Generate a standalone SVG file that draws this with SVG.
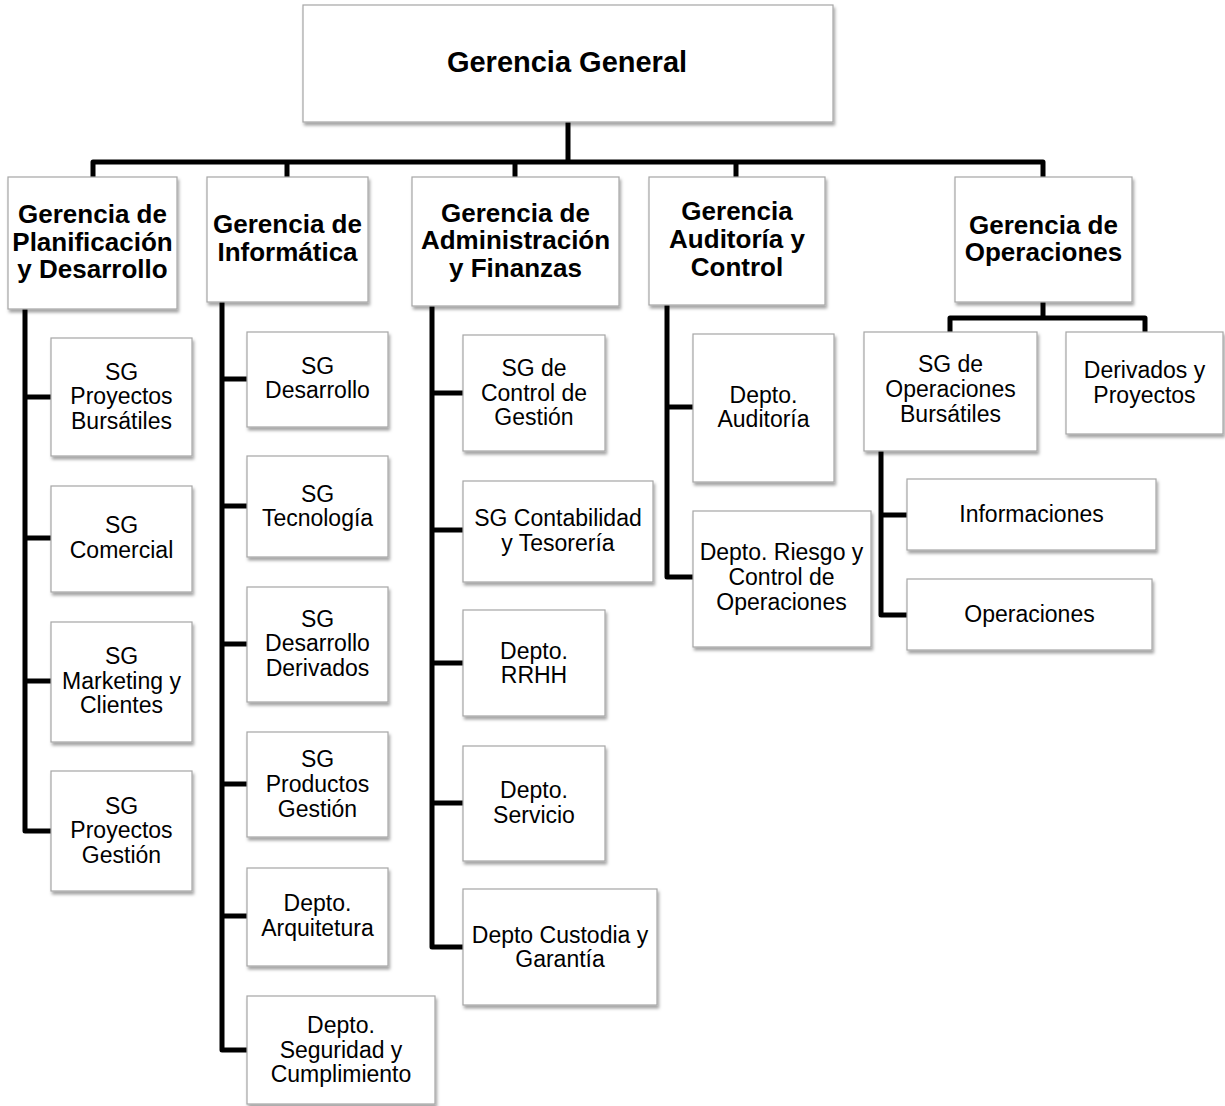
<svg xmlns="http://www.w3.org/2000/svg" width="1225" height="1106" viewBox="0 0 1225 1106">
<defs>
<filter id="sh" x="-10%" y="-10%" width="125%" height="130%">
<feDropShadow dx="1.5" dy="3" stdDeviation="1.8" flood-color="#000" flood-opacity="0.35"/>
</filter>
<style>
.box{fill:#fff;stroke:#a6a6a6;stroke-width:1.2;filter:url(#sh)}
.t{font-family:"Liberation Sans",Arial,sans-serif;font-size:23px;fill:#000;text-anchor:middle}
.b{font-family:"Liberation Sans",Arial,sans-serif;font-size:26px;font-weight:bold;fill:#000;text-anchor:middle}
.top{font-size:29px}
.c{fill:none;stroke:#000;stroke-width:5;stroke-linejoin:round;stroke-linecap:butt}
</style>
</defs>
<rect width="1225" height="1106" fill="#fff"/>
<g id="connectors">
<path class="c" d="M568 122V162M93 177V162H1043V177M287 162V177M515 162V177M736 162V177"/>
<path class="c" d="M51 397H25M51 538H25M51 681H25M25 309V831H51"/>
<path class="c" d="M247 379H222M247 506H222M247 644H222M247 784H222M247 916H222M222 302V1050H247"/>
<path class="c" d="M463 393H432M463 530H432M463 663H432M463 803H432M432 306V947H463"/>
<path class="c" d="M693 407H667M667 305V577H693"/>
<path class="c" d="M1043 302V318M950 332V318H1145V332"/>
<path class="c" d="M907 515H881M881 451V615H907"/>
</g>
<g id="gerencia-general"><rect class="box" x="303" y="5" width="530" height="117"/><text class="b top" x="567" y="72">Gerencia General</text></g>
<g id="g-planificacion"><rect class="box" x="8" y="177" width="169" height="132"/><text class="b" x="92.5" y="223">Gerencia de<tspan x="92.5" dy="27.5">Planificación</tspan><tspan x="92.5" dy="27.5">y Desarrollo</tspan></text></g>
<g id="g-informatica"><rect class="box" x="207" y="177" width="161" height="125"/><text class="b" x="287.5" y="233">Gerencia de<tspan x="287.5" dy="27.5">Informática</tspan></text></g>
<g id="g-administracion"><rect class="box" x="412" y="177" width="207" height="129"/><text class="b" x="515.5" y="221.7">Gerencia de<tspan x="515.5" dy="27.5">Administración</tspan><tspan x="515.5" dy="27.7">y Finanzas</tspan></text></g>
<g id="g-auditoria"><rect class="box" x="649" y="177" width="176" height="128"/><text class="b" x="737" y="220">Gerencia<tspan x="737" dy="28">Auditoría y</tspan><tspan x="737" dy="27.7">Control</tspan></text></g>
<g id="g-operaciones"><rect class="box" x="955" y="177" width="177" height="125"/><text class="b" x="1043.5" y="233.5">Gerencia de<tspan x="1043.5" dy="27.6">Operaciones</tspan></text></g>

<g id="sg-proyectos-bursatiles"><rect class="box" x="51" y="338" width="141" height="118"/><text class="t" x="121.5" y="379.5">SG<tspan x="121.5" dy="24.5">Proyectos</tspan><tspan x="121.5" dy="24.5">Bursátiles</tspan></text></g>
<g id="sg-comercial"><rect class="box" x="51" y="486" width="141" height="106"/><text class="t" x="121.5" y="533">SG<tspan x="121.5" dy="24.5">Comercial</tspan></text></g>
<g id="sg-marketing"><rect class="box" x="51" y="622" width="141" height="120"/><text class="t" x="121.5" y="664">SG<tspan x="121.5" dy="24.5">Marketing y</tspan><tspan x="121.5" dy="24.5">Clientes</tspan></text></g>
<g id="sg-proyectos-gestion"><rect class="box" x="51" y="771" width="141" height="120"/><text class="t" x="121.5" y="813.5">SG<tspan x="121.5" dy="24.5">Proyectos</tspan><tspan x="121.5" dy="24.5">Gestión</tspan></text></g>

<g id="sg-desarrollo"><rect class="box" x="247" y="332" width="141" height="95"/><text class="t" x="317.5" y="373.5">SG<tspan x="317.5" dy="24.5">Desarrollo</tspan></text></g>
<g id="sg-tecnologia"><rect class="box" x="247" y="456" width="141" height="101"/><text class="t" x="317.5" y="501.5">SG<tspan x="317.5" dy="24.5">Tecnología</tspan></text></g>
<g id="sg-desarrollo-derivados"><rect class="box" x="247" y="587" width="141" height="115"/><text class="t" x="317.5" y="626.5">SG<tspan x="317.5" dy="24.5">Desarrollo</tspan><tspan x="317.5" dy="25">Derivados</tspan></text></g>
<g id="sg-productos-gestion"><rect class="box" x="247" y="732" width="141" height="105"/><text class="t" x="317.5" y="767">SG<tspan x="317.5" dy="24.5">Productos</tspan><tspan x="317.5" dy="25">Gestión</tspan></text></g>
<g id="depto-arquitetura"><rect class="box" x="247" y="868" width="141" height="98"/><text class="t" x="317.5" y="911">Depto.<tspan x="317.5" dy="24.5">Arquitetura</tspan></text></g>
<g id="depto-seguridad"><rect class="box" x="247" y="996" width="188" height="108"/><text class="t" x="341" y="1033">Depto.<tspan x="341" dy="24.5">Seguridad y</tspan><tspan x="341" dy="24.5">Cumplimiento</tspan></text></g>

<g id="sg-control-gestion"><rect class="box" x="463" y="335" width="142" height="116"/><text class="t" x="534" y="376">SG de<tspan x="534" dy="24.5">Control de</tspan><tspan x="534" dy="24.5">Gestión</tspan></text></g>
<g id="sg-contabilidad"><rect class="box" x="463" y="481" width="190" height="101"/><text class="t" x="558" y="526">SG Contabilidad<tspan x="558" dy="24.5">y Tesorería</tspan></text></g>
<g id="depto-rrhh"><rect class="box" x="463" y="610" width="142" height="106"/><text class="t" x="534" y="658.5">Depto.<tspan x="534" dy="24.5">RRHH</tspan></text></g>
<g id="depto-servicio"><rect class="box" x="463" y="746" width="142" height="115"/><text class="t" x="534" y="797.5">Depto.<tspan x="534" dy="25">Servicio</tspan></text></g>
<g id="depto-custodia"><rect class="box" x="463" y="889" width="194" height="116"/><text class="t" x="560" y="942.5">Depto Custodia y<tspan x="560" dy="24.5">Garantía</tspan></text></g>

<g id="depto-auditoria"><rect class="box" x="693" y="334" width="141" height="148"/><text class="t" x="763.5" y="402.5">Depto.<tspan x="763.5" dy="24.5">Auditoría</tspan></text></g>
<g id="depto-riesgo"><rect class="box" x="693" y="511" width="178" height="136"/><text class="t" x="781.5" y="560">Depto. Riesgo y<tspan x="781.5" dy="25">Control de</tspan><tspan x="781.5" dy="25">Operaciones</tspan></text></g>

<g id="sg-operaciones-bursatiles"><rect class="box" x="864" y="332" width="173" height="119"/><text class="t" x="950.5" y="372">SG de<tspan x="950.5" dy="25">Operaciones</tspan><tspan x="950.5" dy="24.5">Bursátiles</tspan></text></g>
<g id="derivados-proyectos"><rect class="box" x="1066" y="332" width="157" height="102"/><text class="t" x="1144.5" y="378">Derivados y<tspan x="1144.5" dy="24.5">Proyectos</tspan></text></g>
<g id="informaciones"><rect class="box" x="907" y="479" width="249" height="71"/><text class="t" x="1031.5" y="522">Informaciones</text></g>
<g id="operaciones"><rect class="box" x="907" y="579" width="245" height="71"/><text class="t" x="1029.5" y="622">Operaciones</text></g>
</svg>
